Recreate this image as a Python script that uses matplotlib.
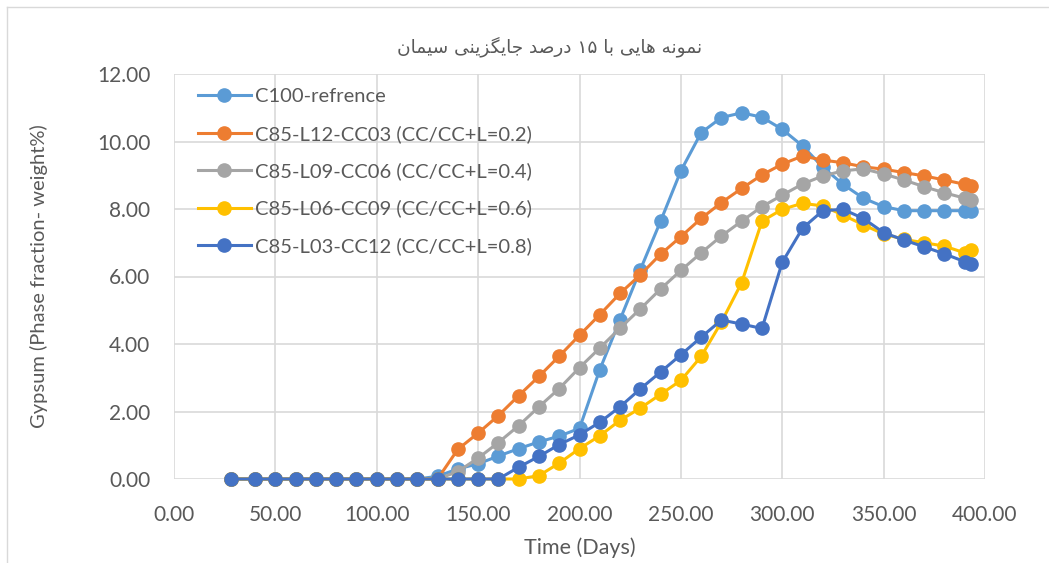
import matplotlib
matplotlib.use("Agg")
import matplotlib.pyplot as plt
from matplotlib.lines import Line2D

# ---------------- data ----------------
days = [28, 40, 50, 60, 70, 80, 90, 100, 110, 120,
        130, 140, 150, 160, 170, 180, 190, 200, 210, 220,
        230, 240, 250, 260, 270, 280, 290, 300, 310, 320,
        330, 340, 350, 360, 370, 380, 390, 393]

zeros10 = [0.0] * 10

c100 = zeros10 + [0.08, 0.30, 0.45, 0.68, 0.90, 1.10, 1.27, 1.50, 3.24, 4.72,
                  6.20, 7.64, 9.13, 10.26, 10.71, 10.85, 10.72, 10.36, 9.87, 9.24,
                  8.73, 8.32, 8.07, 7.95, 7.95, 7.95, 7.95, 7.93]
l12 = zeros10 + [0.0, 0.88, 1.36, 1.88, 2.47, 3.04, 3.64, 4.26, 4.87, 5.50,
                 6.05, 6.66, 7.18, 7.72, 8.19, 8.61, 9.01, 9.33, 9.57, 9.45,
                 9.37, 9.25, 9.18, 9.08, 8.98, 8.86, 8.73, 8.69]
l09 = zeros10 + [0.0, 0.22, 0.62, 1.08, 1.58, 2.14, 2.68, 3.30, 3.88, 4.47,
                 5.04, 5.63, 6.18, 6.70, 7.20, 7.64, 8.07, 8.41, 8.74, 8.98,
                 9.13, 9.19, 9.04, 8.86, 8.66, 8.48, 8.32, 8.27]
l06 = zeros10 + [0.0, 0.0, 0.0, 0.0, 0.0, 0.10, 0.47, 0.90, 1.28, 1.74,
                 2.10, 2.51, 2.92, 3.63, 4.65, 5.82, 7.64, 7.99, 8.17, 8.09,
                 7.82, 7.53, 7.26, 7.10, 7.00, 6.90, 6.70, 6.79]
l03 = zeros10 + [0.0, 0.0, 0.0, 0.0, 0.35, 0.67, 1.02, 1.31, 1.68, 2.14,
                 2.67, 3.17, 3.68, 4.20, 4.71, 4.59, 4.46, 6.42, 7.43, 7.95,
                 7.99, 7.72, 7.30, 7.08, 6.88, 6.67, 6.44, 6.37]

labels = ["C100-refrence",
          "C85-L12-CC03 (CC/CC+L=0.2)",
          "C85-L09-CC06 (CC/CC+L=0.4)",
          "C85-L06-CC09 (CC/CC+L=0.6)",
          "C85-L03-CC12 (CC/CC+L=0.8)"]
colors = ["#5B9BD5", "#ED7D31", "#A5A5A5", "#FFC000", "#4472C4"]
series = [c100, l12, l09, l06, l03]

xticks = [0, 50, 100, 150, 200, 250, 300, 350, 400]
yticks = [0, 2, 4, 6, 8, 10, 12]

title_text = "نمونه هایی با ۱۵ درصد جایگزینی سیمان"
xlabel_text = "Time (Days)"
ylabel_text = "Gypsum (Phase fraction- weight%)"


# -------- minimal Arabic/Persian shaping (matplotlib has no shaping) --------
FORMS = {
    "ا": ("\uFE8D", "\uFE8E", None, None),
    "ب": ("\uFE8F", "\uFE90", "\uFE91", "\uFE92"),
    "ج": ("\uFE9D", "\uFE9E", "\uFE9F", "\uFEA0"),
    "د": ("\uFEA9", "\uFEAA", None, None),
    "ر": ("\uFEAD", "\uFEAE", None, None),
    "ز": ("\uFEAF", "\uFEB0", None, None),
    "س": ("\uFEB1", "\uFEB2", "\uFEB3", "\uFEB4"),
    "ص": ("\uFEB9", "\uFEBA", "\uFEBB", "\uFEBC"),
    "م": ("\uFEE1", "\uFEE2", "\uFEE3", "\uFEE4"),
    "ن": ("\uFEE5", "\uFEE6", "\uFEE7", "\uFEE8"),
    "ه": ("\uFEE9", "\uFEEA", "\uFEEB", "\uFEEC"),
    "و": ("\uFEED", "\uFEEE", None, None),
    "ی": ("\uFBFC", "\uFBFD", "\uFBFE", "\uFBFF"),
    "گ": ("\uFB92", "\uFB93", "\uFB94", "\uFB95"),
}


def shape(text):
    out = []
    n = len(text)
    for i, ch in enumerate(text):
        if ch not in FORMS:
            out.append(ch)
            continue
        prev = text[i - 1] if i > 0 else None
        nxt = text[i + 1] if i < n - 1 else None
        joins_prev = prev in FORMS and FORMS[prev][2] is not None
        joins_next = nxt in FORMS and FORMS[ch][2] is not None
        iso, fin, ini, med = FORMS[ch]
        if joins_prev and joins_next:
            out.append(med)
        elif joins_prev:
            out.append(fin)
        elif joins_next:
            out.append(ini)
        else:
            out.append(iso)
    # visual order: reverse, keeping digit runs left-to-right
    runs, cur, cur_digit = [], "", None
    for ch in out:
        d = ch.isdigit()
        if cur and d != cur_digit:
            runs.append((cur, cur_digit))
            cur = ""
        cur += ch
        cur_digit = d
    if cur:
        runs.append((cur, cur_digit))
    vis = ""
    for r, d in reversed(runs):
        vis += r if d else r[::-1]
    return vis


# ---------------- figure ----------------
W, H = 1049, 563
fig = plt.figure(figsize=(W / 100, H / 100), dpi=100)
fig.patch.set_facecolor("white")

L, R, T, B = 174, 985, 74, 479
ax = fig.add_axes([L / W, 1 - B / H, (R - L) / W, (B - T) / H])

for vals, col, lab in zip(series, colors, labels):
    ax.plot(days, vals, color=col, lw=2.2, marker="o", markersize=9.5,
            label=lab, clip_on=False, zorder=3)

ax.set_xlim(0, 400)
ax.set_ylim(0, 12)
ax.set_xticks(xticks)
ax.set_yticks(yticks)
ax.set_xticklabels([f"{v:.2f}" for v in xticks])
ax.set_yticklabels([f"{v:.2f}" for v in yticks])
ax.grid(True, color="#D9D9D9", lw=1.2, zorder=0)
ax.set_axisbelow(True)
for s in ax.spines.values():
    s.set_visible(False)
ax.tick_params(length=0, labelsize=15, labelcolor="#595959")
ax.tick_params(axis="x", pad=18.5)
ax.tick_params(axis="y", pad=17)
for lbl in ax.get_xticklabels() + ax.get_yticklabels():
    lbl.set_family("Lato")

ax.set_xlabel(xlabel_text, fontsize=15.5, color="#595959", family="Lato",
              labelpad=9.5)
ax.set_ylabel(ylabel_text, fontsize=14.5, color="#595959", family="Lato",
              labelpad=35)

leg = ax.legend(loc="upper left", frameon=False,
                handlelength=2.6, handletextpad=0.2, labelspacing=0.97,
                borderaxespad=0.0, bbox_to_anchor=(0.02, 0.985),
                prop={"family": "Lato", "size": 14.5})
for t in leg.get_texts():
    t.set_color("#595959")

fig.text(550 / W, 1 - 47 / H, shape(title_text), ha="center", va="center",
         fontsize=13.3, color="#595959", family="DejaVu Sans")

# outer chart border
fig.add_artist(Line2D([7 / W, 1.0], [1 - 7 / H, 1 - 7 / H],
                      transform=fig.transFigure, color="#D9D9D9", lw=1))
fig.add_artist(Line2D([7 / W, 7 / W], [0, 1 - 7 / H],
                      transform=fig.transFigure, color="#D9D9D9", lw=1))

fig.savefig("out.png", dpi=100)
